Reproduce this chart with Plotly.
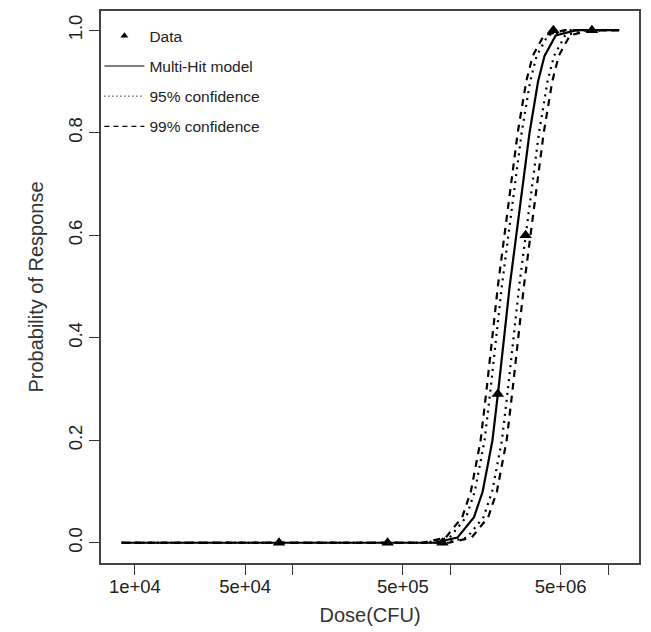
import plotly.graph_objects as go

# Observed data
dose = [8.2e4, 4.0e5, 8.9e5, 2.0e6, 3.0e6, 4.5e6, 7.9e6]
response = [0.0, 0.0, 0.0, 0.29, 0.60, 1.0, 1.0]

# Curves: probability levels and log10(dose) at each level
curve_prob = [0.0, 0.0, 0.01, 0.05, 0.1, 0.2, 0.3, 0.4, 0.5, 0.6, 0.7, 0.8, 0.9, 0.95, 0.99, 1.0, 1.0]
model_log10_dose = [3.916, 5.900, 6.045, 6.150, 6.205, 6.267, 6.305, 6.340, 6.376, 6.418, 6.458, 6.502, 6.556, 6.597, 6.668, 6.800, 7.07]
lower95_log10_dose = [3.916, 5.850, 5.995, 6.100, 6.155, 6.217, 6.255, 6.290, 6.326, 6.368, 6.408, 6.452, 6.506, 6.547, 6.618, 6.750, 7.07]
upper95_log10_dose = [3.916, 5.960, 6.105, 6.210, 6.265, 6.327, 6.365, 6.400, 6.436, 6.478, 6.518, 6.562, 6.616, 6.657, 6.728, 6.860, 7.07]
lower99_log10_dose = [3.916, 5.825, 5.970, 6.075, 6.130, 6.192, 6.230, 6.265, 6.301, 6.343, 6.383, 6.427, 6.481, 6.522, 6.593, 6.725, 7.07]
upper99_log10_dose = [3.916, 5.990, 6.135, 6.240, 6.295, 6.357, 6.395, 6.430, 6.466, 6.508, 6.548, 6.592, 6.646, 6.687, 6.758, 6.890, 7.07]

x_tickvals = [1e4, 5e4, 1e5, 5e5, 1e6, 5e6, 1e7]
x_ticktext = ["1e+04", "5e+04", "", "5e+05", "", "5e+06", ""]
y_tickvals = [0.0, 0.2, 0.4, 0.6, 0.8, 1.0]
y_ticktext = ["0.0", "0.2", "0.4", "0.6", "0.8", "1.0"]

legend_names = ["Data", "Multi-Hit model", "95% confidence", "99% confidence"]

FONT = "Liberation Sans, Arial, sans-serif"
DOT = "2px,5px"
DASH = "7px,6px"

def to_dose(logs):
    return [10 ** v for v in logs]

fig = go.Figure()

for logs, dash in [(lower95_log10_dose, DOT), (upper95_log10_dose, DOT),
                   (lower99_log10_dose, DASH), (upper99_log10_dose, DASH)]:
    fig.add_trace(go.Scatter(x=to_dose(logs), y=curve_prob, mode="lines",
                             line=dict(color="black", width=2.2, dash=dash),
                             showlegend=False, hoverinfo="skip"))

fig.add_trace(go.Scatter(x=to_dose(model_log10_dose), y=curve_prob, mode="lines",
                         line=dict(color="black", width=2.2),
                         showlegend=False))

fig.add_trace(go.Scatter(x=dose, y=response, mode="markers",
                         marker=dict(symbol="triangle-up", size=11, color="black"),
                         showlegend=False))

# Legend entries (thin lines, as in the reference)
fig.add_trace(go.Scatter(x=[None], y=[None], mode="markers", name=legend_names[0],
                         marker=dict(symbol="triangle-up", size=7, color="black"),
                         legendgroup="a"))
fig.add_trace(go.Scatter(x=[None], y=[None], mode="lines", name=legend_names[1],
                         line=dict(color="black", width=1.2), legendgroup="b"))
fig.add_trace(go.Scatter(x=[None], y=[None], mode="lines", name=legend_names[2],
                         line=dict(color="black", width=1.2, dash="1px,3px"), legendgroup="c"))
fig.add_trace(go.Scatter(x=[None], y=[None], mode="lines", name=legend_names[3],
                         line=dict(color="black", width=1.2, dash="5px,4px"), legendgroup="d"))

fig.update_layout(
    width=651, height=632,
    margin=dict(l=93, r=20, t=1, b=77),
    paper_bgcolor="white", plot_bgcolor="white",
    font=dict(family=FONT, color="#333333", size=16),
    legend=dict(x=-0.003, y=0.985, xanchor="left", yanchor="top",
                bgcolor="rgba(0,0,0,0)", font=dict(size=15.5, color="#222222"),
                traceorder="grouped", tracegroupgap=7, itemwidth=40),
    xaxis=dict(type="log", range=[3.785, 7.196],
               tickmode="array", tickvals=x_tickvals, ticktext=x_ticktext,
               ticks="outside", ticklen=10, tickwidth=1.3, tickcolor="#333333",
               ticklabelstandoff=-4,
               showline=True, linecolor="#444444", linewidth=1.5, mirror=True,
               showgrid=False, zeroline=False,
               tickfont=dict(size=18.5, color="#222222"),
               title=dict(text="Dose(CFU)", font=dict(size=20, color="#333333"), standoff=12)),
    yaxis=dict(range=[-0.0395, 1.0375],
               tickmode="array", tickvals=y_tickvals, ticktext=y_ticktext,
               tickangle=-90,
               ticks="outside", ticklen=10, tickwidth=1.3, tickcolor="#333333",
               ticklabelstandoff=0,
               showline=True, linecolor="#444444", linewidth=1.5, mirror=True,
               showgrid=False, zeroline=False,
               tickfont=dict(size=18.5, color="#222222"),
               title=dict(text="Probability of Response", font=dict(size=20, color="#333333"), standoff=16)),
)

fig.write_html("out.html")
